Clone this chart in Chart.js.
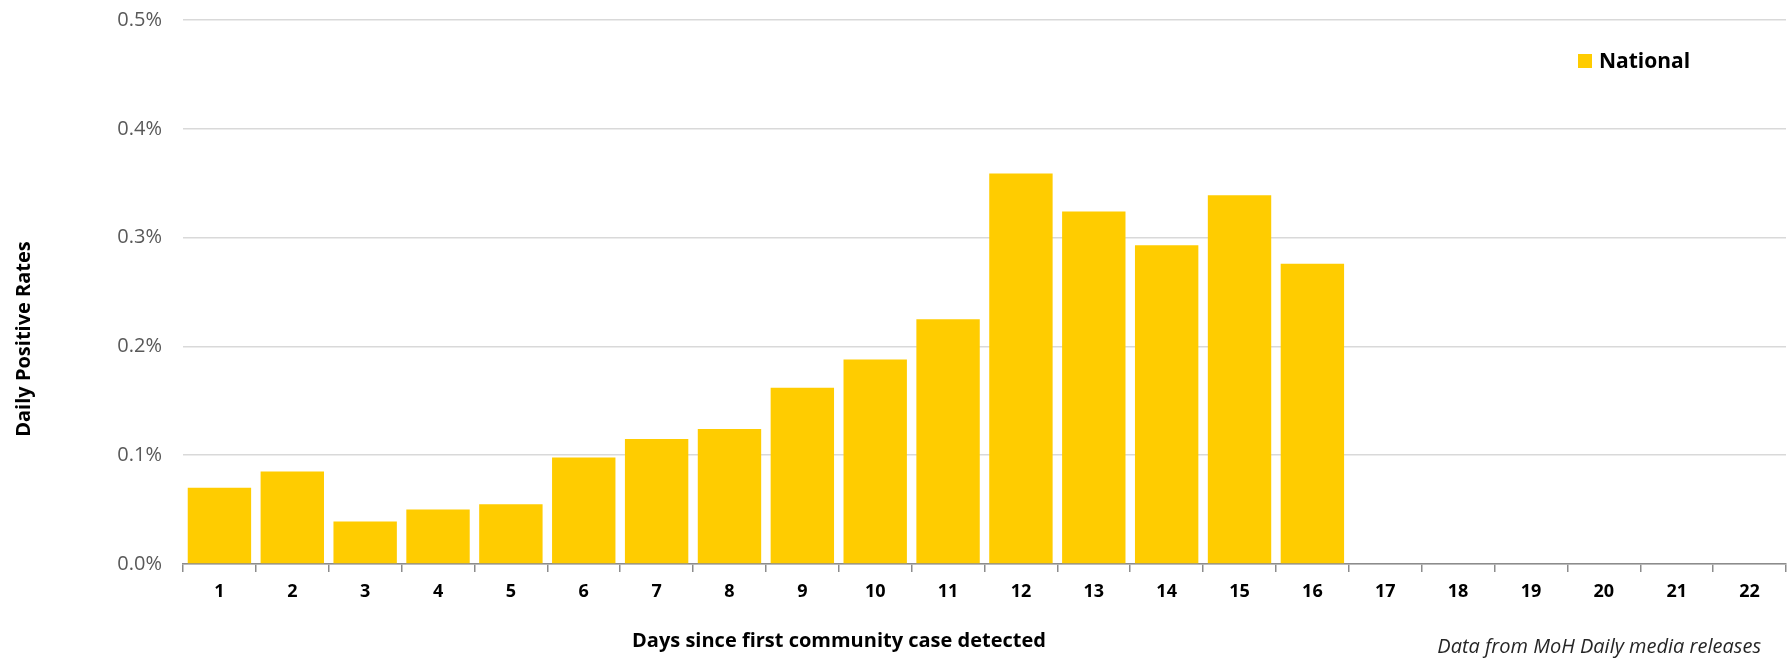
<!DOCTYPE html>
<html>
<head>
<meta charset="utf-8">
<script src="https://cdn.jsdelivr.net/npm/chart.js@4.4.0/dist/chart.umd.min.js"></script>
<style>
  html, body { margin: 0; padding: 0; background: #fff; }
  #wrap { width: 1787px; height: 667px; }
</style>
</head>
<body>
<div id="wrap"><canvas id="canvas" width="1787" height="667"></canvas></div>
<script>
// days since first community case
var days = ['1', '2', '3', '4', '5', '6', '7', '8', '9', '10', '11',
            '12', '13', '14', '15', '16', '17', '18', '19', '20', '21', '22'];

// daily positive rate, in percent (days 17-22 not reported yet)
var national = [0.070, 0.085, 0.039, 0.050, 0.055, 0.098, 0.115, 0.124, 0.162, 0.188, 0.225,
                0.359, 0.324, 0.293, 0.339, 0.276, null, null, null, null, null, null];

var yMin = 0;
var yMax = 0.5;
var yStep = 0.1;

var seriesName = 'National';
var xTitle = 'Days since first community case detected';
var yTitle = 'Daily Positive Rates';
var note = 'Data from MoH Daily media releases';

var font = "'Open Sans', sans-serif";
var yellow = '#ffcc00';

// extra text: axis titles, legend and source note
var textPlugin = {
    id: 'extraText',
    afterDraw: function(chart) {
        var ctx = chart.ctx;
        ctx.save();
        ctx.fillStyle = '#000';
        ctx.textBaseline = 'middle';

        // y title
        ctx.save();
        ctx.translate(24, 339);
        ctx.rotate(-Math.PI / 2);
        ctx.textAlign = 'center';
        ctx.font = 'bold 20px ' + font;
        ctx.fillText(yTitle, 0, 0);
        ctx.restore();

        // x title
        ctx.textAlign = 'center';
        ctx.font = 'bold 20px ' + font;
        ctx.fillText(xTitle, 839, 641);

        // legend
        ctx.fillStyle = yellow;
        ctx.fillRect(1578, 54, 14, 14);
        ctx.fillStyle = '#000';
        ctx.textAlign = 'left';
        ctx.font = 'bold 21px ' + font;
        ctx.fillText(seriesName, 1599, 62);

        // source
        ctx.textAlign = 'right';
        ctx.fillStyle = '#262626';
        ctx.font = 'italic 20px ' + font;
        ctx.fillText(note, 1761, 647);
        ctx.restore();
    }
};

var ctx = document.getElementById('canvas');

var barGraph = new Chart(ctx, {
    type: 'bar',
    data: {
        labels: days,
        datasets: [{
            label: seriesName,
            data: national,
            backgroundColor: yellow,
            borderWidth: 0,
            categoryPercentage: 1,
            barPercentage: 0.87
        }]
    },
    options: {
        responsive: false,
        animation: false,
        devicePixelRatio: 1,
        layout: { padding: { top: 20, right: 1, left: 0, bottom: 0 } },
        plugins: {
            legend: { display: false },
            title: { display: false },
            tooltip: { enabled: false }
        },
        scales: {
            x: {
                offset: true,
                grid: {
                    display: true,
                    offset: true,
                    drawOnChartArea: false,
                    drawTicks: true,
                    tickLength: 8,
                    color: '#8c8c8c',
                    lineWidth: 1.5
                },
                border: { display: true, color: '#8c8c8c', width: 1.5 },
                ticks: {
                    color: '#000',
                    font: { family: font, size: 18, weight: 'bold' },
                    padding: 9,
                    maxRotation: 0,
                    autoSkip: false
                },
                afterFit: function(scale) {
                    scale.height = 103;
                    scale.paddingLeft = 0;
                    scale.paddingRight = 0;
                }
            },
            y: {
                min: yMin,
                max: yMax,
                ticks: {
                    stepSize: yStep,
                    color: '#595959',
                    padding: 21,
                    font: { family: font, size: 20 },
                    callback: function(v) { return v.toFixed(1) + '%'; }
                },
                grid: {
                    color: '#d9d9d9',
                    lineWidth: 1.5,
                    drawTicks: false
                },
                border: { display: false },
                afterFit: function(scale) {
                    scale.width = 183;
                    scale.paddingTop = 0;
                    scale.paddingBottom = 0;
                }
            }
        }
    },
    plugins: [textPlugin]
});
</script>
</body>
</html>
